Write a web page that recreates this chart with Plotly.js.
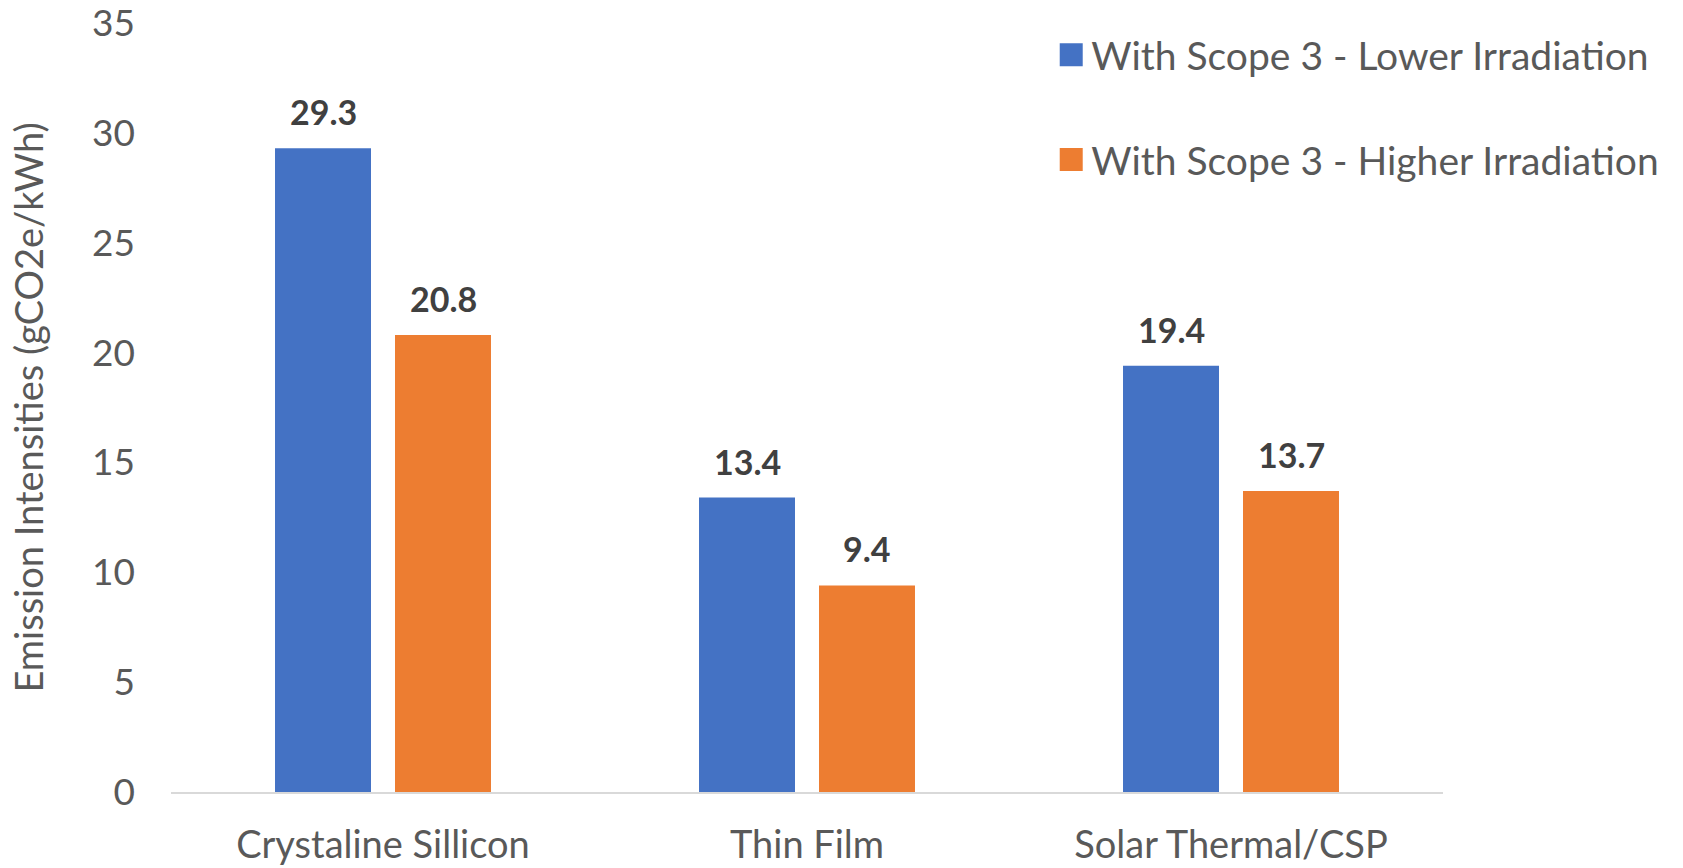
<!DOCTYPE html>
<html>
<head>
<meta charset="utf-8">
<script src="https://cdn.plot.ly/plotly-3.0.1.min.js"></script>
<style>html,body{margin:0;padding:0;background:#fff;}#chart{width:1683px;height:868px;}</style>
</head>
<body>
<div id="chart"></div>
<script>
const categories = ["Crystaline Sillicon", "Thin Film", "Solar Thermal/CSP"];
const seriesNames = ["With Scope 3 - Lower Irradiation", "With Scope 3 - Higher Irradiation"];
const lowerIrradiation = [29.3, 13.4, 19.4];
const higherIrradiation = [20.8, 9.4, 13.7];
const yTicks = [0, 5, 10, 15, 20, 25, 30, 35];
const colors = ["#4472C4", "#ED7D31"];
const FONT = "Lato, 'Open Sans', sans-serif";

const series = [lowerIrradiation, higherIrradiation];
const traces = series.map((vals, i) => ({
  type: "bar",
  name: seriesNames[i],
  x: categories,
  y: vals,
  marker: {color: colors[i], line: {width: 0}},
  legendgroup: "g" + i,
  hoverinfo: "x+y+name"
}));

const annotations = [];
series.forEach((vals, i) => {
  vals.forEach((v, j) => {
    annotations.push({
      x: categories[j], y: v, xref: "x", yref: "y",
      xshift: i === 0 ? -60 : 60, yshift: 14,
      yanchor: "bottom", showarrow: false,
      text: "<b>" + v.toFixed(1) + "</b>",
      font: {family: FONT, size: 34, color: "#404040"}
    });
  });
});

const layout = {
  width: 1683, height: 868,
  margin: {l: 171, r: 240, t: 23, b: 76},
  paper_bgcolor: "#fff", plot_bgcolor: "#fff",
  font: {family: FONT, color: "#595959"},
  barmode: "group",
  bargap: 0.434,
  bargroupgap: 0.2,
  showlegend: true,
  legend: {
    x: 0.692, xanchor: "left", y: 1.0, yanchor: "top",
    font: {family: FONT, size: 39, color: "#595959"},
    tracegroupgap: 51, traceorder: "grouped", bgcolor: "rgba(0,0,0,0)"
  },
  xaxis: {
    type: "category",
    showline: true, linecolor: "#d9d9d9", linewidth: 2,
    showgrid: false, zeroline: false, ticks: "",
    tickfont: {family: FONT, size: 38, color: "#595959"},
    ticklabelstandoff: 18
  },
  yaxis: {
    range: [0, 35], tickvals: yTicks, ticktext: yTicks.map(String),
    showline: false, showgrid: false, zeroline: false, ticks: "",
    ticklabeloverflow: "allow",
    tickfont: {family: FONT, size: 37, color: "#595959"},
    ticklabelstandoff: 35,
    title: {text: "Emission Intensities (gCO2e/kWh)", font: {family: FONT, size: 38, color: "#595959"}, standoff: 36}
  },
  annotations: annotations
};

Plotly.newPlot("chart", traces, layout, {displayModeBar: false, staticPlot: true}).then(() => {
  document.querySelectorAll(".legendpoints path").forEach(p => {
    p.setAttribute("d", "M11.5,11.5H-11.5V-11.5H11.5Z");
  });
});
</script>
</body>
</html>
